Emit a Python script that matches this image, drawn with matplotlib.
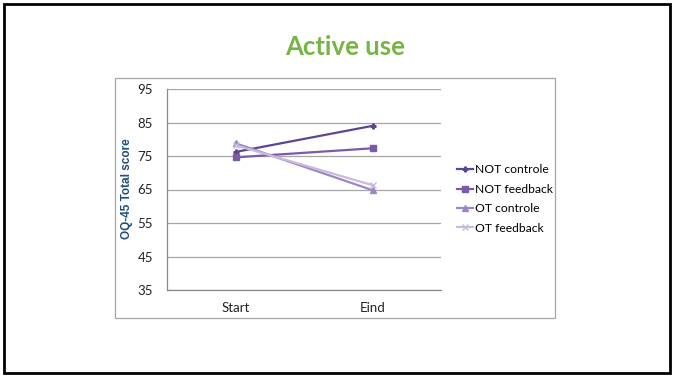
import matplotlib
matplotlib.use("Agg")
import matplotlib.pyplot as plt
from matplotlib.patches import Rectangle

categories = ["Start", "Eind"]
series_names = ["NOT controle", "NOT feedback", "OT controle", "OT feedback"]
not_controle = [76.2, 84.0]
not_feedback = [74.6, 77.3]
ot_controle = [78.8, 64.8]
ot_feedback = [78.2, 66.3]
y_ticks = [35, 45, 55, 65, 75, 85, 95]

series_values = [not_controle, not_feedback, ot_controle, ot_feedback]
colors = ["#5E4590", "#7A5BA8", "#9C86C4", "#C7BCDD"]
markers = ["P", "s", "^", "x"]
msizes = [3.5, 4.5, 4.5, 4.5]

W, H = 673, 378
fig = plt.figure(figsize=(W / 100, H / 100), dpi=100)
fig.patch.set_facecolor("white")

# slide border
fig.add_artist(Rectangle((4 / W, 1 - 373 / H), 666 / W, 369 / H,
                         transform=fig.transFigure, fill=False,
                         edgecolor="black", linewidth=2))
# chart frame
fig.add_artist(Rectangle((115 / W, 1 - 318 / H), 440 / W, 240 / H,
                         transform=fig.transFigure, fill=False,
                         edgecolor="#A6A6A6", linewidth=0.9))

fig.text(345 / W, 1 - 47 / H, "Active use", ha="center", va="center",
         fontsize=18.5, fontweight="bold", color="#77B446", family="Lato")

ax = fig.add_axes([167 / W, 1 - 290 / H, 274 / W, 201 / H])
x = list(range(len(categories)))
for name, vals, c, m, ms in zip(series_names, series_values, colors, markers, msizes):
    ax.plot(x, vals, color=c, marker=m, markersize=ms, linewidth=1.6,
            label=name, markeredgewidth=1.0)

ax.set_xlim(-0.5, 1.5)
ax.set_ylim(35, 95)
ax.set_yticks(y_ticks)
ax.set_xticks(x)
ax.set_xticklabels(categories)
ax.yaxis.grid(True, color="#A6A6A6", linewidth=0.9)
ax.set_axisbelow(True)
for s in ["top", "right"]:
    ax.spines[s].set_visible(False)
for s in ["left", "bottom"]:
    ax.spines[s].set_color("#888888")
    ax.spines[s].set_linewidth(0.9)
ax.tick_params(length=0, labelsize=9.5, pad=10)
ax.tick_params(axis="x", pad=9)
for lab in ax.get_xticklabels() + ax.get_yticklabels():
    lab.set_family("Lato")
    lab.set_color("#222222")

fig.text(127 / W, 1 - 189 / H, "OQ-45 Total score", rotation=90,
         ha="center", va="center", fontsize=8.5, fontweight="bold",
         color="#1F4E79", family="Liberation Sans")

leg = ax.legend(loc="center left", bbox_to_anchor=(451 / W, 1 - 199 / H),
                bbox_transform=fig.transFigure, frameon=False,
                prop={"family": "Lato", "size": 8.7}, handlelength=1.3,
                handletextpad=0.15, labelspacing=0.7, borderpad=0)

fig.savefig("out.png", dpi=100)
